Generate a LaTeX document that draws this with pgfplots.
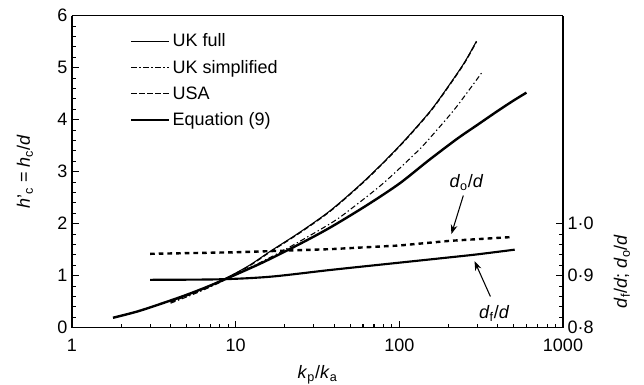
\documentclass[border=0pt]{standalone}
\usepackage{fontspec}
\setmainfont{Liberation Sans}
\usepackage{pgfplots}
\pgfplotsset{compat=1.18}
\usetikzlibrary{arrows.meta}

\pgfplotstableread{
x y
1.78 0.19
2.5 0.31
3.5 0.46
5 0.63
7 0.81
10 1.02
15 1.27
25 1.62
38 1.93
63 2.35
100 2.77
150 3.21
225 3.63
300 3.90
400 4.17
500 4.37
598 4.52
}\eqnine

\pgfplotstableread{
x y
4 0.50
6 0.72
8.8 0.96
12 1.19
16.3 1.47
24.8 1.84
37.8 2.25
57.7 2.75
80 3.18
109 3.62
155 4.17
200 4.65
250 5.10
296 5.51
}\ukfull

\pgfplotstableread{
x y
4 0.49
6 0.71
8.8 0.95
12 1.18
16.3 1.46
24.8 1.83
37.8 2.24
57.7 2.74
80 3.17
109 3.61
155 4.16
200 4.64
250 5.09
296 5.50
}\usa

\pgfplotstableread{
x y
4 0.47
6 0.69
8.8 0.93
12 1.14
20 1.50
37.8 2.00
50 2.27
80 2.78
128 3.38
155 3.66
220 4.22
320 4.91
}\uksimp

\pgfplotstableread{
x y
3 0.942
10 0.945
38 0.951
100 0.958
204 0.967
471 0.974
}\dodata

\pgfplotstableread{
x y
3 0.892
8 0.893
16.3 0.898
38 0.911
100 0.925
200 0.935
300 0.941
507 0.950
}\dfdata

\begin{document}
\begin{tikzpicture}[font=\fontsize{13.5}{16}\selectfont]
\useasboundingbox (-54pt,-43pt) rectangle (429pt,245.75pt);
\begin{axis}[
  at={(0,0)}, anchor=south west,
  scale only axis, width=368.25pt, height=234pt,
  xmode=log, xmin=1, xmax=1000, ymin=0, ymax=6,
  axis x line*=bottom, axis y line*=left,
  axis line style={-, line width=1pt},
  xtick={1,10,100,1000}, xticklabels={1,10,100,1000},
  xticklabel style={yshift=-5pt},
  ytick={0,1,2,3,4,5,6}, minor y tick num=4,
  tick align=inside,
  major tick length=5pt, minor tick length=3pt,
  tick style={black, line width=0.8pt},
  /pgf/number format/assume math mode=true,
  every tick label/.append style={font=\fontsize{13.5}{16}\selectfont},
  xlabel={\textit{k}\textsubscript{p}/\textit{k}\textsubscript{a}},
  xlabel style={at={(axis description cs:0.5,-0.151)}, anchor=center},
  ylabel={\textit{h}'\textsubscript{c} = \textit{h}\textsubscript{c}/\textit{d}},
  ylabel style={at={(axis description cs:-0.096,0.5)}, anchor=center},
  legend style={draw=none, fill=none, at={(rel axis cs:0.11,0.96)}, anchor=north west,
    font=\fontsize{13.5}{16}\selectfont, row sep=4.5pt},
  legend cell align=left,
  legend image code/.code={\draw[#1] (0pt,0pt) -- (28pt,0pt);},
]
\addplot[black, line width=0.8pt, smooth] table[x=x,y=y] {\ukfull};
\addlegendentry{UK full}
\addplot[black, line width=0.8pt, smooth, dash pattern=on 4pt off 2pt on 1pt off 2pt] table[x=x,y=y] {\uksimp};
\addlegendentry{UK simplified}
\addplot[black, line width=1pt, smooth, dash pattern=on 4pt off 2pt] table[x=x,y=y] {\usa};
\addlegendentry{USA}
\addplot[black, line width=1.8pt, smooth] table[x=x,y=y] {\eqnine};
\addlegendentry{Equation (9)}

\node[anchor=center] at (axis cs:257,2.79) {\textit{d}\textsubscript{o}/\textit{d}};
\draw[-{Stealth[length=7pt,width=5pt]}, line width=0.8pt] (axis cs:246,2.54) -- (axis cs:208,1.80);
\node[anchor=center] at (axis cs:380,0.27) {\textit{d}\textsubscript{f}/\textit{d}};
\draw[-{Stealth[length=7pt,width=5pt]}, line width=0.8pt] (axis cs:360,0.60) -- (axis cs:288,1.28);
\end{axis}

\begin{axis}[
  at={(0,0)}, anchor=south west,
  scale only axis, width=368.25pt, height=234pt,
  xmode=log, xmin=1, xmax=1000, ymin=0.8, ymax=1.4,
  axis x line*=top, axis y line*=right,
  axis line style={-, line width=1pt},
  xtick=\empty,
  ytick={0.8,0.9,1.0}, yticklabels={0·8,0·9,1·0},
  minor ytick={0.82,0.84,0.86,0.88,0.92,0.94,0.96,0.98},
  tick align=inside,
  major tick length=5pt, minor tick length=3pt,
  tick style={black, line width=0.8pt},
  every tick label/.append style={font=\fontsize{13.5}{16}\selectfont},
  ylabel={\textit{d}\textsubscript{f}/\textit{d}; \textit{d}\textsubscript{o}/\textit{d}},
  ylabel style={at={(axis description cs:1.12,0.18)}, anchor=center},
]
\addplot[black, line width=1.8pt, dash pattern=on 3.5pt off 3pt] table[x=x,y=y] {\dodata};
\addplot[black, line width=1.6pt, smooth] table[x=x,y=y] {\dfdata};
\end{axis}
\end{tikzpicture}
\end{document}
